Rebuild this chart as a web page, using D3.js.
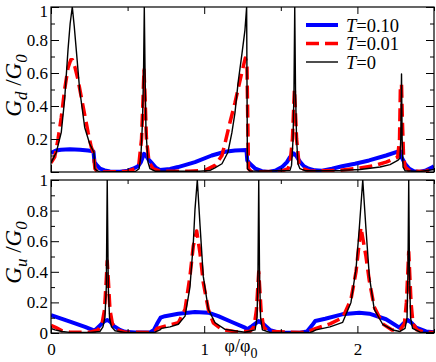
<!DOCTYPE html>
<html>
<head>
<meta charset="utf-8">
<script src="https://cdn.jsdelivr.net/npm/d3@7"></script>
<style>
  body { margin: 0; background: #fff; }
  svg { display: block; }
  text { font-family: "Liberation Serif", "Times New Roman", serif; fill: #000; }
</style>
</head>
<body>
<div id="chart"></div>
<script>
// ---- data: [phi/phi0, G/G0] ----
// upper panel, G_d
var gdT010 = [[0,0.115],[0.033,0.13],[0.065,0.135],[0.124,0.138],[0.189,0.135],[0.242,0.13],[0.277,0.125],[0.284,0.06],[0.30,0.04],[0.32,0.02],[0.351,0.01],[0.385,0.003],[0.45,0.002],[0.503,0.008],[0.535,0.02],[0.568,0.035],[0.587,0.06],[0.607,0.11],[0.62,0.1],[0.633,0.08],[0.657,0.055],[0.685,0.025],[0.711,0.012],[0.777,0.018],[0.829,0.03],[0.94,0.06],[1.049,0.1],[1.136,0.123],[1.201,0.13],[1.276,0.133],[1.281,0.07],[1.299,0.05],[1.334,0.02],[1.377,0.005],[1.421,0],[1.469,0.01],[1.508,0.03],[1.54,0.06],[1.56,0.09],[1.584,0.113],[1.599,0.1],[1.627,0.06],[1.651,0.035],[1.682,0.02],[1.723,0.01],[1.769,0.008],[1.834,0.02],[1.9,0.035],[1.984,0.05],[2.076,0.07],[2.187,0.1],[2.263,0.123],[2.281,0.125],[2.288,0.09],[2.311,0.05],[2.339,0.02],[2.369,0.005],[2.404,0],[2.448,0.01],[2.492,0.03],[2.5,0.035]];
var gdT001 = [[0,0.055],[0.024,0.09],[0.046,0.2],[0.067,0.33],[0.089,0.5],[0.111,0.63],[0.129,0.68],[0.140,0.68],[0.155,0.64],[0.176,0.56],[0.209,0.4],[0.242,0.24],[0.263,0.15],[0.276,0.12],[0.287,0.02],[0.30,0.005],[0.32,0],[0.5,0.003],[0.548,0.02],[0.574,0.05],[0.591,0.2],[0.601,0.45],[0.607,0.62],[0.614,0.45],[0.623,0.2],[0.64,0.06],[0.666,0.02],[0.711,0.005],[0.9,0.004],[1.005,0.01],[1.07,0.04],[1.116,0.1],[1.136,0.175],[1.168,0.3],[1.201,0.42],[1.245,0.6],[1.268,0.69],[1.279,0.66],[1.289,0.02],[1.31,0],[1.5,0.004],[1.547,0.02],[1.56,0.05],[1.576,0.2],[1.589,0.5],[1.603,0.2],[1.619,0.05],[1.645,0.02],[1.69,0.005],[1.886,0.01],[2.017,0.025],[2.115,0.04],[2.187,0.06],[2.263,0.09],[2.275,0.2],[2.281,0.53],[2.288,0.53],[2.294,0.3],[2.301,0.1],[2.311,0.03],[2.343,0.005],[2.441,0.003],[2.5,0.025]];
var gdT0 = [[0,0.055],[0.035,0.12],[0.067,0.24],[0.089,0.44],[0.111,0.74],[0.125,0.9],[0.139,1.0],[0.152,0.88],[0.165,0.74],[0.187,0.5],[0.220,0.27],[0.253,0.17],[0.274,0.13],[0.280,0.12],[0.286,0.02],[0.30,0.008],[0.318,0],[0.55,0.003],[0.575,0.02],[0.587,0.1],[0.597,0.3],[0.604,0.6],[0.609,1.0],[0.614,0.6],[0.62,0.25],[0.633,0.06],[0.646,0.02],[0.679,0.005],[0.973,0.005],[1.038,0.01],[1.07,0.025],[1.116,0.05],[1.155,0.12],[1.181,0.24],[1.201,0.36],[1.221,0.54],[1.247,0.72],[1.266,0.86],[1.277,1.0],[1.282,0.02],[1.30,0.005],[1.56,0.01],[1.57,0.04],[1.58,0.2],[1.586,0.5],[1.591,1.0],[1.596,0.5],[1.603,0.2],[1.612,0.05],[1.625,0.02],[1.658,0.008],[1.886,0.01],[2.017,0.015],[2.148,0.03],[2.213,0.045],[2.263,0.07],[2.278,0.085],[2.283,0.2],[2.288,0.594],[2.292,0.2],[2.298,0.03],[2.311,0.008],[2.409,0.003],[2.5,0.015]];

// lower panel, G_u
var guT010 = [[0,0.117],[0.124,0.075],[0.222,0.04],[0.284,0.015],[0.32,0.05],[0.346,0.075],[0.367,0.085],[0.385,0.075],[0.411,0.045],[0.45,0.02],[0.483,0.008],[0.548,0.003],[0.646,0.003],[0.672,0.02],[0.692,0.06],[0.715,0.1],[0.744,0.11],[0.831,0.126],[0.94,0.137],[1.027,0.133],[1.092,0.11],[1.18,0.072],[1.266,0.035],[1.279,0.024],[1.312,0.045],[1.356,0.078],[1.384,0.06],[1.431,0.018],[1.482,0.003],[1.625,0.002],[1.671,0.01],[1.704,0.05],[1.725,0.078],[1.79,0.093],[1.9,0.122],[2.012,0.133],[2.078,0.126],[2.187,0.09],[2.274,0.035],[2.298,0.06],[2.328,0.085],[2.35,0.07],[2.383,0.035],[2.448,0.01],[2.5,0.005]];
var guT001 = [[0,0.05],[0.033,0.035],[0.072,0.015],[0.124,0.005],[0.255,0.005],[0.307,0.02],[0.333,0.06],[0.349,0.15],[0.361,0.35],[0.367,0.47],[0.374,0.35],[0.385,0.15],[0.401,0.06],[0.431,0.02],[0.483,0.005],[0.646,0.004],[0.679,0.01],[0.692,0.03],[0.744,0.045],[0.831,0.067],[0.875,0.155],[0.907,0.37],[0.929,0.57],[0.951,0.667],[0.973,0.52],[0.994,0.33],[1.027,0.155],[1.059,0.067],[1.114,0.024],[1.201,0.008],[1.299,0.01],[1.325,0.04],[1.341,0.15],[1.356,0.4],[1.371,0.15],[1.387,0.04],[1.416,0.01],[1.625,0.003],[1.671,0.008],[1.704,0.02],[1.73,0.03],[1.821,0.06],[1.904,0.1],[1.958,0.22],[1.991,0.4],[2.023,0.69],[2.056,0.5],[2.078,0.34],[2.11,0.17],[2.165,0.06],[2.226,0.02],[2.278,0.02],[2.307,0.06],[2.32,0.2],[2.335,0.53],[2.35,0.2],[2.363,0.06],[2.389,0.02],[2.441,0.005],[2.5,0.003]];
var guT0 = [[0,0.03],[0.026,0.02],[0.072,0.01],[0.124,0.004],[0.255,0.003],[0.32,0.01],[0.339,0.04],[0.352,0.1],[0.361,0.3],[0.367,1.0],[0.374,0.3],[0.382,0.1],[0.395,0.04],[0.418,0.015],[0.483,0.004],[0.679,0.005],[0.711,0.02],[0.721,0.03],[0.777,0.04],[0.831,0.057],[0.875,0.11],[0.907,0.3],[0.929,0.59],[0.94,0.81],[0.955,1.0],[0.973,0.7],[0.994,0.37],[1.027,0.155],[1.071,0.067],[1.136,0.024],[1.266,0.005],[1.332,0.02],[1.345,0.1],[1.351,0.4],[1.356,1.0],[1.361,0.4],[1.368,0.1],[1.38,0.02],[1.43,0.004],[1.69,0.003],[1.71,0.01],[1.73,0.02],[1.821,0.04],[1.904,0.07],[1.958,0.2],[1.991,0.42],[2.012,0.68],[2.035,1.0],[2.056,0.68],[2.078,0.37],[2.11,0.155],[2.165,0.057],[2.23,0.02],[2.278,0.01],[2.311,0.03],[2.324,0.1],[2.33,0.4],[2.335,1.0],[2.34,0.4],[2.347,0.1],[2.36,0.03],[2.409,0.005],[2.5,0.002]];

var legendLabels = ["0.10", "0.01", "0"];
var xMajor = [0, 1, 2], xMinor = [0.5, 1.5, 2.5];
var yMajor = [0, 0.2, 0.4, 0.6, 0.8, 1], yMinor = [0.1, 0.3, 0.5, 0.7, 0.9];

var W = 436, H = 362;
var x = d3.scaleLinear().domain([0, 2.5]).range([51, 434]);

var svg = d3.select("#chart").append("svg")
  .attr("width", W).attr("height", H);

var series = [
  {color: "#0000ff", width: 4, dash: null},
  {color: "#ff0000", width: 3.5, dash: "13,6"},
  {color: "#000000", width: 1.4, dash: null}
];

function panel(id, top, bottom, data, sub, yLabels, showX) {
  var y = d3.scaleLinear().domain([0, 1]).range([bottom, top]);
  var g = svg.append("g");

  g.append("clipPath").attr("id", id)
    .append("rect").attr("x", 51).attr("y", top)
    .attr("width", 434 - 51).attr("height", bottom - top);

  var line = d3.line()
    .x(function(d) { return x(d[0]); })
    .y(function(d) { return y(d[1]); });

  var curves = g.append("g").attr("clip-path", "url(#" + id + ")");
  data.forEach(function(d, i) {
    curves.append("path")
      .datum(d)
      .attr("fill", "none")
      .attr("stroke", series[i].color)
      .attr("stroke-width", series[i].width)
      .attr("stroke-dasharray", series[i].dash)
      .attr("stroke-linejoin", "round")
      .attr("d", line);
  });

  // inward ticks on all four sides
  function styleAxis(sel) {
    sel.select(".domain").remove();
    sel.selectAll("line").attr("stroke", "#000");
  }
  var axB = g.append("g").attr("transform", "translate(0," + bottom + ")")
    .call(d3.axisBottom(x).tickValues(xMajor).tickSize(-7).tickPadding(10)
      .tickFormat(showX ? d3.format("d") : ""));
  axB.selectAll("text").style("font-size", "17px").attr("dy", "0.71em");
  styleAxis(axB);
  g.append("g").attr("transform", "translate(0," + bottom + ")")
    .call(d3.axisBottom(x).tickValues(xMinor).tickSize(-4).tickFormat(""))
    .call(styleAxis);
  g.append("g").attr("transform", "translate(0," + top + ")")
    .call(d3.axisTop(x).tickValues(xMajor).tickSize(-7).tickFormat(""))
    .call(styleAxis);
  g.append("g").attr("transform", "translate(0," + top + ")")
    .call(d3.axisTop(x).tickValues(xMinor).tickSize(-4).tickFormat(""))
    .call(styleAxis);

  var axL = g.append("g").attr("transform", "translate(51,0)")
    .call(d3.axisLeft(y).tickValues(yMajor).tickSize(-8).tickPadding(3)
      .tickFormat(function(v) { return yLabels.indexOf(v) >= 0 ? d3.format("~g")(v) : ""; }));
  axL.selectAll("text").style("font-size", "17px");
  // keep the topmost label inside the page
  axL.selectAll("text").filter(function(v) { return y(v) < 12; }).attr("dy", "0.55em");
  styleAxis(axL);
  g.append("g").attr("transform", "translate(51,0)")
    .call(d3.axisLeft(y).tickValues(yMinor).tickSize(-4).tickFormat(""))
    .call(styleAxis);
  g.append("g").attr("transform", "translate(434,0)")
    .call(d3.axisRight(y).tickValues(yMajor).tickSize(-8).tickFormat(""))
    .call(styleAxis);
  g.append("g").attr("transform", "translate(434,0)")
    .call(d3.axisRight(y).tickValues(yMinor).tickSize(-4).tickFormat(""))
    .call(styleAxis);

  g.append("rect")
    .attr("x", 51).attr("y", top)
    .attr("width", 434 - 51).attr("height", bottom - top)
    .attr("fill", "none").attr("stroke", "#000").attr("stroke-width", 1.2);

  // y label, rotated
  var lab = g.append("text")
    .attr("transform", "translate(21," + ((top + bottom) / 2 - 4) + ") rotate(-90)")
    .attr("text-anchor", "middle")
    .style("font-size", "23px").style("font-style", "italic");
  lab.append("tspan").text("G");
  lab.append("tspan").attr("dy", 6).style("font-size", "17px").text(sub);
  lab.append("tspan").attr("dy", -6).style("font-style", "normal").text(" /");
  lab.append("tspan").text("G");
  lab.append("tspan").attr("dy", 6).style("font-size", "17px").text("0");
  return y;
}

panel("clipTop", 7, 172, [gdT010, gdT001, gdT0], "d", [0.2, 0.4, 0.6, 0.8, 1], false);
panel("clipBot", 180, 333, [guT010, guT001, guT0], "u", [0, 0.2, 0.4, 0.6, 0.8, 1], true);

// x label
var xl = svg.append("text")
  .attr("x", 241).attr("y", 352)
  .attr("text-anchor", "middle")
  .style("font-size", "18px");
xl.append("tspan").text("\u03c6/\u03c6");
xl.append("tspan").attr("dy", 6).style("font-size", "14px").text("0");

// legend
var leg = svg.append("g");
legendLabels.forEach(function(t, i) {
  var yy = 25 + i * 18.5;
  leg.append("line")
    .attr("x1", 306).attr("x2", 338).attr("y1", yy).attr("y2", yy)
    .attr("stroke", series[i].color)
    .attr("stroke-width", series[i].width)
    .attr("stroke-dasharray", series[i].dash);
  var tx = leg.append("text")
    .attr("x", 346).attr("y", yy + 6.5)
    .style("font-size", "18.5px");
  tx.append("tspan").style("font-style", "italic").text("T");
  tx.append("tspan").text("=" + t);
});
</script>
</body>
</html>
